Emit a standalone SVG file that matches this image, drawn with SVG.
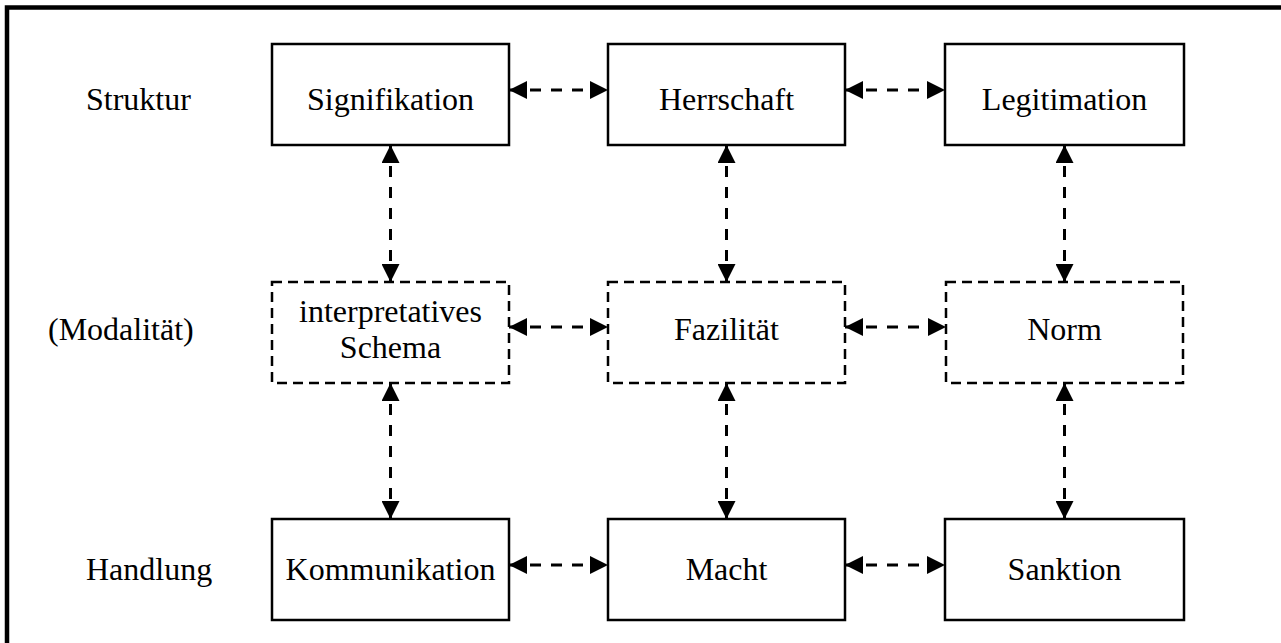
<svg xmlns="http://www.w3.org/2000/svg" width="1281" height="643" viewBox="0 0 1281 643">
<style>
.box{fill:#fff;stroke:#000;stroke-width:2.5}
.dbox{fill:#fff;stroke:#000;stroke-width:2.5;stroke-dasharray:10,6}
.t{font-family:"Liberation Serif","Times New Roman",serif;font-size:32px;fill:#000}
.c{text-anchor:middle}
.arr{stroke:#000;stroke-width:3;fill:none;stroke-dasharray:11,10;marker-start:url(#ah);marker-end:url(#ah)}
</style>
<defs>
<marker id="ah" markerUnits="userSpaceOnUse" markerWidth="18" markerHeight="18" refX="18" refY="9" orient="auto-start-reverse" viewBox="0 0 18 18">
<path d="M0,0 L18,9 L0,18 z" fill="#000"/>
</marker>
</defs>
<rect width="1281" height="643" fill="#fff"/>
<path d="M7,643 V7.5 H1281" fill="none" stroke="#000" stroke-width="4.5"/>
<g id="labels">
<text class="t" x="86" y="110">Struktur</text>
<text class="t" x="48" y="340">(Modalität)</text>
<text class="t" x="86" y="580">Handlung</text>
</g>
<g id="connectors">
<line class="arr" x1="509" y1="90" x2="608" y2="90"/>
<line class="arr" x1="845" y1="90" x2="945" y2="90"/>
<line class="arr" x1="509" y1="327" x2="608" y2="327"/>
<line class="arr" x1="845" y1="327" x2="946" y2="327"/>
<line class="arr" x1="509" y1="565" x2="608" y2="565"/>
<line class="arr" x1="845" y1="565" x2="945" y2="565"/>
<line class="arr" x1="390.5" y1="145" x2="390.5" y2="282"/>
<line class="arr" x1="726.5" y1="145" x2="726.5" y2="282"/>
<line class="arr" x1="1064.5" y1="145" x2="1064.5" y2="282"/>
<line class="arr" x1="390.5" y1="383" x2="390.5" y2="519"/>
<line class="arr" x1="726.5" y1="383" x2="726.5" y2="519"/>
<line class="arr" x1="1064.5" y1="383" x2="1064.5" y2="519"/>
</g>
<g id="signifikation"><rect class="box" x="272" y="44" width="237" height="101"/><text class="t c" x="390.5" y="110">Signifikation</text></g>
<g id="herrschaft"><rect class="box" x="608" y="44" width="237" height="101"/><text class="t c" x="726.5" y="110">Herrschaft</text></g>
<g id="legitimation"><rect class="box" x="945" y="44" width="239" height="101"/><text class="t c" x="1064.5" y="110">Legitimation</text></g>
<g id="schema"><rect class="dbox" x="272" y="282" width="237" height="101"/><text class="t c" x="390.5" y="322">interpretatives</text><text class="t c" x="390.5" y="358">Schema</text></g>
<g id="fazilitaet"><rect class="dbox" x="608" y="282" width="237" height="101"/><text class="t c" x="726.5" y="340">Fazilität</text></g>
<g id="norm"><rect class="dbox" x="946" y="282" width="237" height="101"/><text class="t c" x="1064.5" y="340">Norm</text></g>
<g id="kommunikation"><rect class="box" x="272" y="519" width="237" height="101"/><text class="t c" x="390.5" y="580">Kommunikation</text></g>
<g id="macht"><rect class="box" x="608" y="519" width="237" height="101"/><text class="t c" x="726.5" y="580">Macht</text></g>
<g id="sanktion"><rect class="box" x="945" y="519" width="239" height="101"/><text class="t c" x="1064.5" y="580">Sanktion</text></g>
</svg>
